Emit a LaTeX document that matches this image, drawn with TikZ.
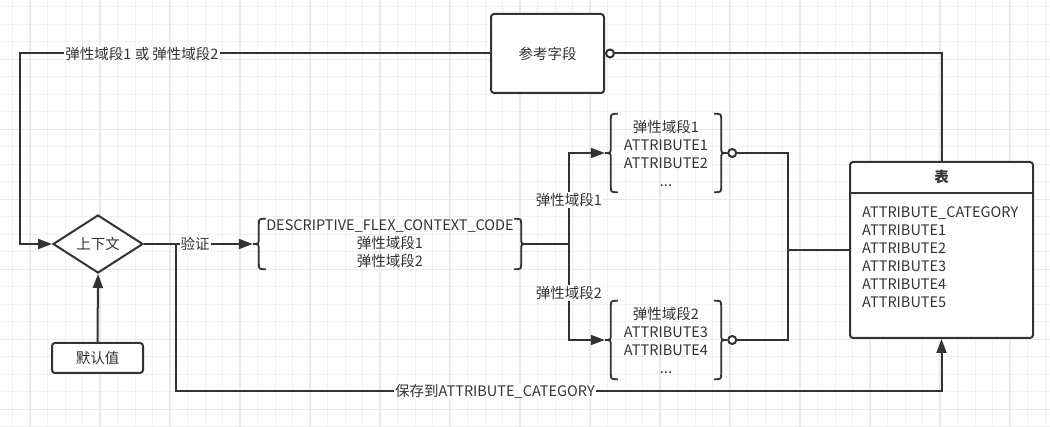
\documentclass[tikz,border=0pt]{standalone}
\usepackage{fontspec}
\setmainfont{Noto Sans CJK SC}
\usetikzlibrary{arrows.meta,shapes.geometric,calc}
\definecolor{ink}{HTML}{333333}
\definecolor{gridminor}{HTML}{F1F1F1}
\definecolor{gridmajor}{HTML}{E9E9E9}
\tikzset{
  every node/.style={text=ink, font=\fontsize{14.5}{18}\selectfont},
  line/.style={draw=ink, line width=2pt},
  arr/.style={line, -{Triangle[length=14pt,width=10pt]}},
  circarr/.style={line, {Circle[open,length=10pt,width=10pt,fill=white]}-},
  box/.style={draw=ink, line width=2pt, rounded corners=3pt, fill=white, inner sep=0pt},
  lbl/.style={fill=white, inner sep=1pt},
  bracenode/.style={inner sep=0pt, align=center},
  bracestroke/.style={draw=ink, line width=1.8pt},
}
\newcommand\drawbracepair[1]{%
  \draw[bracestroke] ($(#1.north west)+(13,0)$) .. controls ($(#1.north west)+(6,0)$) .. ($(#1.north west)+(6,6)$)
    -- ($(#1.west)+(6,-6)$) .. controls ($(#1.west)+(6,0)$) .. (#1.west)
    .. controls ($(#1.west)+(6,0)$) .. ($(#1.west)+(6,6)$)
    -- ($(#1.south west)+(6,-6)$) .. controls ($(#1.south west)+(6,0)$) .. ($(#1.south west)+(13,0)$);
  \draw[bracestroke] ($(#1.north east)+(-13,0)$) .. controls ($(#1.north east)+(-6,0)$) .. ($(#1.north east)+(-6,6)$)
    -- ($(#1.east)+(-6,-6)$) .. controls ($(#1.east)+(-6,0)$) .. (#1.east)
    .. controls ($(#1.east)+(-6,0)$) .. ($(#1.east)+(-6,6)$)
    -- ($(#1.south east)+(-6,-6)$) .. controls ($(#1.south east)+(-6,0)$) .. ($(#1.south east)+(-13,0)$);
}
\begin{document}
\begin{tikzpicture}[x=1pt,y=-1pt]
\useasboundingbox (0,0) rectangle (1050,427);
\fill[white] (0,0) rectangle (1050,427);
% grid
\foreach \i in {0,...,59} \draw[gridminor, line width=0.8pt] ({12.5+17.5*\i},0) -- ({12.5+17.5*\i},427);
\foreach \j in {0,...,24} \draw[gridminor, line width=0.8pt] (0,{6.8+17.5*\j}) -- (1050,{6.8+17.5*\j});
\foreach \i in {0,...,14} \draw[gridmajor, line width=1.4pt] ({30+70*\i},0) -- ({30+70*\i},427);
\foreach \j in {0,...,6} \draw[gridmajor, line width=1.4pt] (0,{-10.7+70*\j}) -- (1050,{-10.7+70*\j});

% nodes
\node[box, minimum width=113pt, minimum height=79pt] (ref) at (547.5,53.5) {参考字段};
\node[draw=ink, line width=2pt, diamond, aspect=1.55, minimum width=90pt, minimum height=58pt, inner sep=0pt, fill=white] (ctx) at (98,244) {上下文};
\node[box, minimum width=91pt, minimum height=30pt] (def) at (97.5,358) {默认值};
\node[bracenode, minimum width=274pt, minimum height=50pt] (brace0) at (390,244)
  {DESCRIPTIVE\_FLEX\_CONTEXT\_CODE\\弹性域段1\\弹性域段2};
\node[bracenode, minimum width=122pt, minimum height=78pt] (brace1) at (666,153)
  {弹性域段1\\ATTRIBUTE1\\ATTRIBUTE2\\...};
\node[bracenode, minimum width=122pt, minimum height=78pt] (brace2) at (666,340)
  {弹性域段2\\ATTRIBUTE3\\ATTRIBUTE4\\...};
\drawbracepair{brace0}
\drawbracepair{brace1}
\drawbracepair{brace2}
\node[box, minimum width=183pt, minimum height=176pt] (tbl) at (941.5,250) {};
\draw[line] ([yshift=-32pt]tbl.north west) -- ([yshift=-32pt]tbl.north east);
\node[font=\fontsize{14.5}{18}\selectfont\bfseries] (tblh) at ([yshift=-16pt]tbl.north) {表};
\node[anchor=north west, align=left, inner sep=0pt] (tbli) at (862,206)
  {ATTRIBUTE\_CATEGORY\\ATTRIBUTE1\\ATTRIBUTE2\\ATTRIBUTE3\\ATTRIBUTE4\\ATTRIBUTE5};

% connectors
\coordinate (tl) at (20,53.5);
\draw[arr] (ref.west) -- (tl) |- (ctx.west);
\node[lbl] (lblor) at (142,53.5) {弹性域段1 或 弹性域段2};
\draw[circarr] (ref.east) -| (tbl.north);
\draw[arr] (def.north) -- (ctx.south);
\coordinate (br) at (176,244);
\coordinate (bb) at (176,391);
\draw[arr] (br) -- (bb) -| (tbl.south);
\node[lbl] (lblsave) at (495,391) {保存到ATTRIBUTE\_CATEGORY};
\draw[arr] (ctx.east) -- node[lbl,pos=0.47] (lblver) {验证} (brace0.west);
\coordinate (sp) at (569,244);
\draw[line] (brace0.east) -- (sp);
\draw[arr] (sp) |- (brace1.west);
\draw[arr] (sp) |- (brace2.west);
\node[lbl] (lbls1) at (569,200) {弹性域段1};
\node[lbl] (lbls2) at (569,293) {弹性域段2};
\coordinate (jn) at (788,250);
\draw[circarr] (brace1.east) -| (jn);
\draw[circarr] (brace2.east) -| (jn);
\draw[line] (jn) -- (tbl.west);
\end{tikzpicture}
\end{document}
